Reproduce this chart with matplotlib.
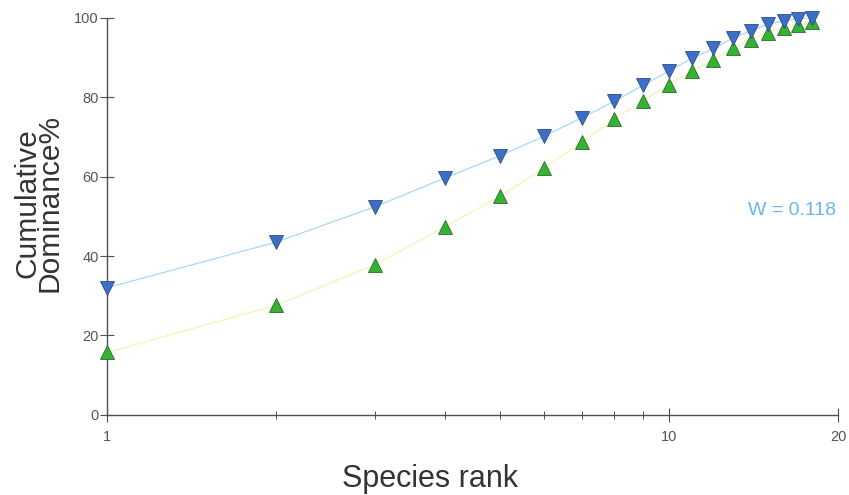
import numpy as np
import matplotlib.pyplot as plt
from matplotlib.ticker import FixedLocator, NullFormatter

plt.rcParams['font.family'] = ['Liberation Sans', 'DejaVu Sans']

# Species rank and cumulative dominance (%)
rank = np.arange(1, 19)
biomass = [32.0, 43.5, 52.4, 59.7, 65.2, 70.2, 74.8, 79.0, 83.0, 86.6,
           89.8, 92.3, 94.9, 96.7, 98.4, 99.2, 99.8, 100.0]
abundance = [15.7, 27.6, 37.8, 47.4, 55.0, 62.2, 68.7, 74.6, 79.1, 83.2,
             86.6, 89.4, 92.3, 94.5, 96.3, 97.5, 98.2, 98.9]
w_text = "W = 0.118"

fig = plt.figure(figsize=(8.49, 4.95), dpi=100)
ax = fig.add_axes([0.126, 0.162, 0.861, 0.802])

# lines first, then markers on top
ax.plot(rank, abundance, color='#f4f4b4', lw=0.9, zorder=2)
ax.plot(rank, biomass, color='#a6daf4', lw=0.9, zorder=2)
ax.plot(rank, abundance, ls='none', marker='^', ms=9.8, mfc='#34b234',
        mec='#2a6b2a', mew=0.6, zorder=3, clip_on=False)
ax.plot(rank, biomass, ls='none', marker='v', ms=9.8, mfc='#3d6fc6',
        mec='#2a4c86', mew=0.6, zorder=4, clip_on=False)

ax.set_xscale('log')
ax.set_xlim(1, 20)
ax.set_ylim(0, 100)
ax.xaxis.set_major_locator(FixedLocator([1, 10, 20]))
ax.xaxis.set_minor_locator(FixedLocator([2, 3, 4, 5, 6, 7, 8, 9]))
ax.xaxis.set_minor_formatter(NullFormatter())
ax.set_xticklabels(['1', '10', '20'])
ax.set_yticks([0, 20, 40, 60, 80, 100])

for s in ['top', 'right']:
    ax.spines[s].set_visible(False)
for s in ['left', 'bottom']:
    ax.spines[s].set_color('#505050')
    ax.spines[s].set_linewidth(1.0)

ax.tick_params(axis='both', which='major', direction='inout', length=10,
               width=0.8, color='#505050', labelcolor='#555555',
               labelsize=10.5)
ax.tick_params(axis='x', which='minor', direction='inout', length=6,
               width=0.7, color='#505050')
ax.tick_params(axis='x', which='major', pad=6)
ax.tick_params(axis='y', which='major', pad=1)

fig.text(0.507, 0.017, 'Species rank', fontsize=22, color='#333333',
         ha='center', va='baseline')
fig.text(0.045, 0.59, 'Cumulative\nDominance%', fontsize=21.5,
         color='#333333', rotation=90, ha='center', va='center',
         multialignment='center', linespacing=0.72)

ax.text(0.985, 0.575, w_text, transform=fig.transFigure, ha='right',
        va='center', fontsize=14, color='#6cb6ee')

fig.savefig('out.png', dpi=100)
